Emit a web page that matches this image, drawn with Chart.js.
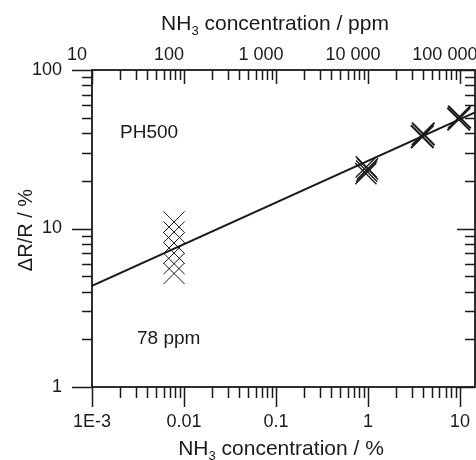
<!DOCTYPE html>
<html>
<head>
<meta charset="utf-8">
<title>PH500 NH3 response</title>
<script src="https://cdn.jsdelivr.net/npm/chart.js@4/dist/chart.umd.min.js"></script>
<style>
    body { margin: 0; background: #fff; }
    canvas { display: block; }
</style>
</head>
<body>
<canvas id="responseChart" width="476" height="460"></canvas>
<script>
// Данные (концентрация в %, отклик в %)
const fitX = [0.001, 14.6];
const fitY = [4.35, 54];

const lowConcX = [0.0078, 0.0078, 0.0078, 0.0078, 0.0078, 0.0078];
const lowConcY = [11.0, 9.5, 8.1, 7.0, 6.0, 5.2];

const midConcX = [0.95, 0.97, 0.99, 0.96];
const midConcY = [22.2, 23.0, 23.8, 24.5];

const highConcX = [3.9, 4.0, 9.7, 9.9];
const highConcY = [38.0, 39.5, 49.0, 50.5];

// Подписи делений (по степени десяти)
const bottomTickLabels = { "-3": "1E-3", "-2": "0.01", "-1": "0.1", "0": "1", "1": "10" };
const topTickLabels = { "-3": "10", "-2": "100", "-1": "1 000", "0": "10 000", "1": "100 000" };
const leftTickLabels = { "0": "1", "1": "10", "2": "100" };

const sensorName = "PH500";
const lowConcLabel = "78 ppm";

const FONT = "'Liberation Sans', Arial, sans-serif";
const INK = "#1a1a1a";

function toPoints(xs, ys) {
    return xs.map((x, i) => ({ x: x, y: ys[i] }));
}

function decadeOf(v) {
    let e = Math.log10(v);
    return Math.abs(e - Math.round(e)) < 1e-6 ? Math.round(e) : null;
}

function isWholeStep(v) {
    let e = Math.floor(Math.log10(v) + 1e-9);
    let m = v / Math.pow(10, e);
    return Math.abs(m - Math.round(m)) < 1e-6;
}

// 🛠️ Деления рисуем сами: внутрь сверху и справа, наружу снизу и слева
const tickPlugin = {
    id: "tickMarks",
    afterDraw(chart) {
        const ctx = chart.ctx;
        const a = chart.chartArea;
        const xs = chart.scales.x;
        const ys = chart.scales.y;
        ctx.save();
        ctx.strokeStyle = INK;
        ctx.lineWidth = 1.5;
        ctx.beginPath();
        xs.ticks.forEach(t => {
            if (!isWholeStep(t.value)) return;
            let px = Math.round(xs.getPixelForValue(t.value)) + 0.5;
            let major = decadeOf(t.value) !== null;
            ctx.moveTo(px, a.bottom);
            ctx.lineTo(px, a.bottom + (major ? 20 : 11));
            ctx.moveTo(px, a.top);
            ctx.lineTo(px, a.top + (major ? 14 : 10));
        });
        ys.ticks.forEach(t => {
            if (!isWholeStep(t.value)) return;
            let py = Math.round(ys.getPixelForValue(t.value)) + 0.5;
            let major = decadeOf(t.value) !== null;
            ctx.moveTo(a.left, py);
            ctx.lineTo(a.left - (major ? 20 : 10), py);
            ctx.moveTo(a.right, py);
            ctx.lineTo(a.right - (major ? 18 : 10), py);
        });
        ctx.stroke();
        ctx.lineWidth = 1.8;
        ctx.strokeRect(a.left, a.top, a.right - a.left, a.bottom - a.top);
        ctx.restore();
    }
};

// Заголовки осей с нижним индексом и подписи на поле графика
function drawSubTitle(ctx, cx, baseline, before, sub, after) {
    ctx.font = "21px " + FONT;
    let w1 = ctx.measureText(before).width;
    let w3 = ctx.measureText(after).width;
    ctx.font = "13px " + FONT;
    let w2 = ctx.measureText(sub).width;
    let x = cx - (w1 + w2 + w3) / 2;
    ctx.textAlign = "left";
    ctx.textBaseline = "alphabetic";
    ctx.font = "21px " + FONT;
    ctx.fillText(before, x, baseline);
    ctx.font = "13px " + FONT;
    ctx.fillText(sub, x + w1, baseline + 5);
    ctx.font = "21px " + FONT;
    ctx.fillText(after, x + w1 + w2, baseline);
}

const textPlugin = {
    id: "titles",
    afterDraw(chart) {
        const ctx = chart.ctx;
        ctx.save();
        ctx.fillStyle = INK;
        drawSubTitle(ctx, 275, 29.5, "NH", "3", " concentration / ppm");
        drawSubTitle(ctx, 281, 455, "NH", "3", " concentration / %");

        ctx.save();
        ctx.translate(32, 230);
        ctx.rotate(-Math.PI / 2);
        ctx.font = "20px " + FONT;
        ctx.textAlign = "center";
        ctx.textBaseline = "alphabetic";
        ctx.fillText("\u0394R/R / %", 0, 0);
        ctx.restore();

        ctx.font = "19px " + FONT;
        ctx.textAlign = "left";
        ctx.textBaseline = "alphabetic";
        ctx.fillText(sensorName, 120, 138);
        ctx.fillText(lowConcLabel, 137, 344);
        ctx.restore();
    }
};

const logTickOpts = {
    autoSkip: false,
    maxRotation: 0,
    color: INK,
    font: { family: FONT, size: 18 }
};

// Фиксируем размеры осей, чтобы поле графика было 92..475 x 70..387
function fixHeight(h) {
    return s => {
        s.height = h;
        s.paddingLeft = 0;
        s.paddingRight = 0;
    };
}

let ctx = document.getElementById("responseChart").getContext("2d");
let responseChart = new Chart(ctx, {
    type: "scatter",
    data: {
        datasets: [
            {
                label: "fit",
                data: toPoints(fitX, fitY),
                showLine: true,
                borderColor: INK,
                borderWidth: 2,
                pointRadius: 0
            },
            {
                label: "78 ppm",
                data: toPoints(lowConcX, lowConcY),
                pointStyle: "crossRot",
                pointRadius: 15,
                borderColor: INK,
                borderWidth: 1
            },
            {
                label: "1 %",
                data: toPoints(midConcX, midConcY),
                pointStyle: "crossRot",
                pointRadius: 15,
                borderColor: INK,
                borderWidth: 1.3
            },
            {
                label: "4-10 %",
                data: toPoints(highConcX, highConcY),
                pointStyle: "crossRot",
                pointRadius: 16,
                borderColor: INK,
                borderWidth: 2
            }
        ]
    },
    options: {
        responsive: false,
        animation: false,
        devicePixelRatio: 1,
        layout: { autoPadding: false, padding: { left: 0, right: 1, top: 0, bottom: 0 } },
        plugins: {
            legend: { display: false },
            tooltip: { enabled: false }
        },
        scales: {
            x: {
                type: "logarithmic",
                position: "bottom",
                min: 0.001,
                max: 14.6,
                grid: { display: false, drawTicks: false },
                border: { display: false },
                ticks: Object.assign({}, logTickOpts, {
                    padding: 24,
                    callback: v => {
                        let e = decadeOf(v);
                        return e !== null && bottomTickLabels[e] ? bottomTickLabels[e] : "";
                    }
                }),
                afterFit: fixHeight(73)
            },
            x2: {
                type: "logarithmic",
                position: "top",
                min: 0.001,
                max: 14.6,
                grid: { display: false, drawTicks: false },
                border: { display: false },
                ticks: Object.assign({}, logTickOpts, {
                    padding: 4,
                    labelOffset: -15,
                    callback: v => {
                        let e = decadeOf(v);
                        return e !== null && topTickLabels[e] ? topTickLabels[e] : "";
                    }
                }),
                afterFit: fixHeight(70)
            },
            y: {
                type: "logarithmic",
                position: "left",
                min: 1,
                max: 100,
                grid: { display: false, drawTicks: false },
                border: { display: false },
                ticks: Object.assign({}, logTickOpts, {
                    padding: 30,
                    callback: v => {
                        let e = decadeOf(v);
                        return e !== null && leftTickLabels[e] ? leftTickLabels[e] : "";
                    }
                }),
                afterFit: s => {
                    s.width = 92;
                    s.paddingTop = 0;
                    s.paddingBottom = 0;
                }
            }
        }
    },
    plugins: [tickPlugin, textPlugin]
});
console.log("chart area", responseChart.chartArea);
</script>
</body>
</html>
